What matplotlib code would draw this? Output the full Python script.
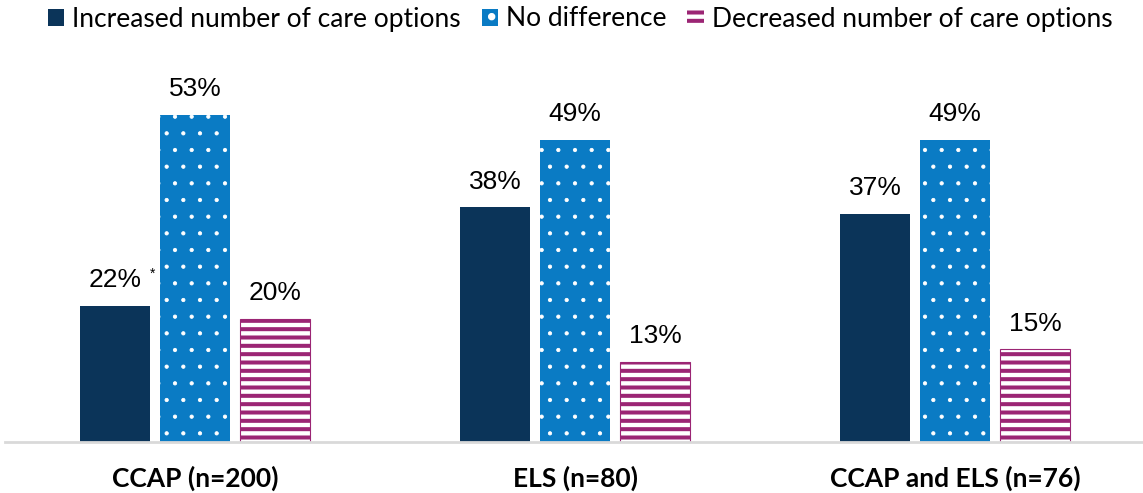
import matplotlib.pyplot as plt
import matplotlib.patches as mpatches
import numpy as np

groups = ['CCAP (n=200)', 'ELS (n=80)', 'CCAP and ELS (n=76)']
series = ['Increased number of care options', 'No difference', 'Decreased number of care options']
increased = [22, 38, 37]
no_diff = [53, 49, 49]
decreased = [20, 13, 15]

navy = '#0b3459'
blue = '#0a7bc4'
purple = '#9b2574'

fig = plt.figure(figsize=(11.43, 4.93), dpi=100)
ax = fig.add_axes([5 / 1143, 51 / 493, 1137 / 1143, 382 / 493])

x = np.arange(len(groups))
w = 70 / 380
off = 80 / 380

b1 = ax.bar(x - off, increased, w, color=navy, linewidth=0)
plt.rcParams['hatch.linewidth'] = 0.6
b2 = ax.bar(x, no_diff, w, color=blue, edgecolor='white', hatch='.', linewidth=0)
h2 = mpatches.Patch(facecolor=blue, edgecolor='white', hatch='.', linewidth=0)
plt.rcParams['hatch.linewidth'] = 2.9
b3 = ax.bar(x + off, decreased, w, color='white', edgecolor=purple, hatch='--', linewidth=0.8)
h3 = mpatches.Patch(facecolor='white', edgecolor=purple, hatch='--', linewidth=0)

ax.set_xlim(-0.5, 2.492)
ax.set_ylim(0, 61.9)

for bars, vals in [(b1, increased), (b2, no_diff), (b3, decreased)]:
    for rect, v in zip(bars, vals):
        ax.annotate(f'{v}%', (rect.get_x() + rect.get_width() / 2, v),
                    xytext=(0, 10), textcoords='offset points',
                    ha='center', va='bottom', fontsize=19, family='Liberation Sans')

# significance marker on the first CCAP bar
r = b1[0]
ax.annotate('*', (r.get_x() + r.get_width() / 2, increased[0]),
            xytext=(27, 18), textcoords='offset points',
            ha='center', va='bottom', fontsize=10, family='Liberation Sans')

for s in ['top', 'right', 'left']:
    ax.spines[s].set_visible(False)
ax.spines['bottom'].set_color('#d9d9d9')
ax.spines['bottom'].set_linewidth(2)
ax.set_yticks([])
ax.set_xticks(x)
ax.set_xticklabels(groups, fontsize=19, fontweight='bold', family='Lato')
ax.tick_params(axis='x', length=0, pad=17)

handles = [mpatches.Patch(facecolor=navy, linewidth=0), h2, h3]
fig.legend(handles, series, loc='center', bbox_to_anchor=(580 / 1143, 1 - 19 / 493),
           ncol=3, frameon=False, prop={'family': 'Lato', 'size': 19},
           handlelength=0.62, handleheight=0.62, handletextpad=0.3, columnspacing=0.8)

fig.savefig('out.png', dpi=100)
